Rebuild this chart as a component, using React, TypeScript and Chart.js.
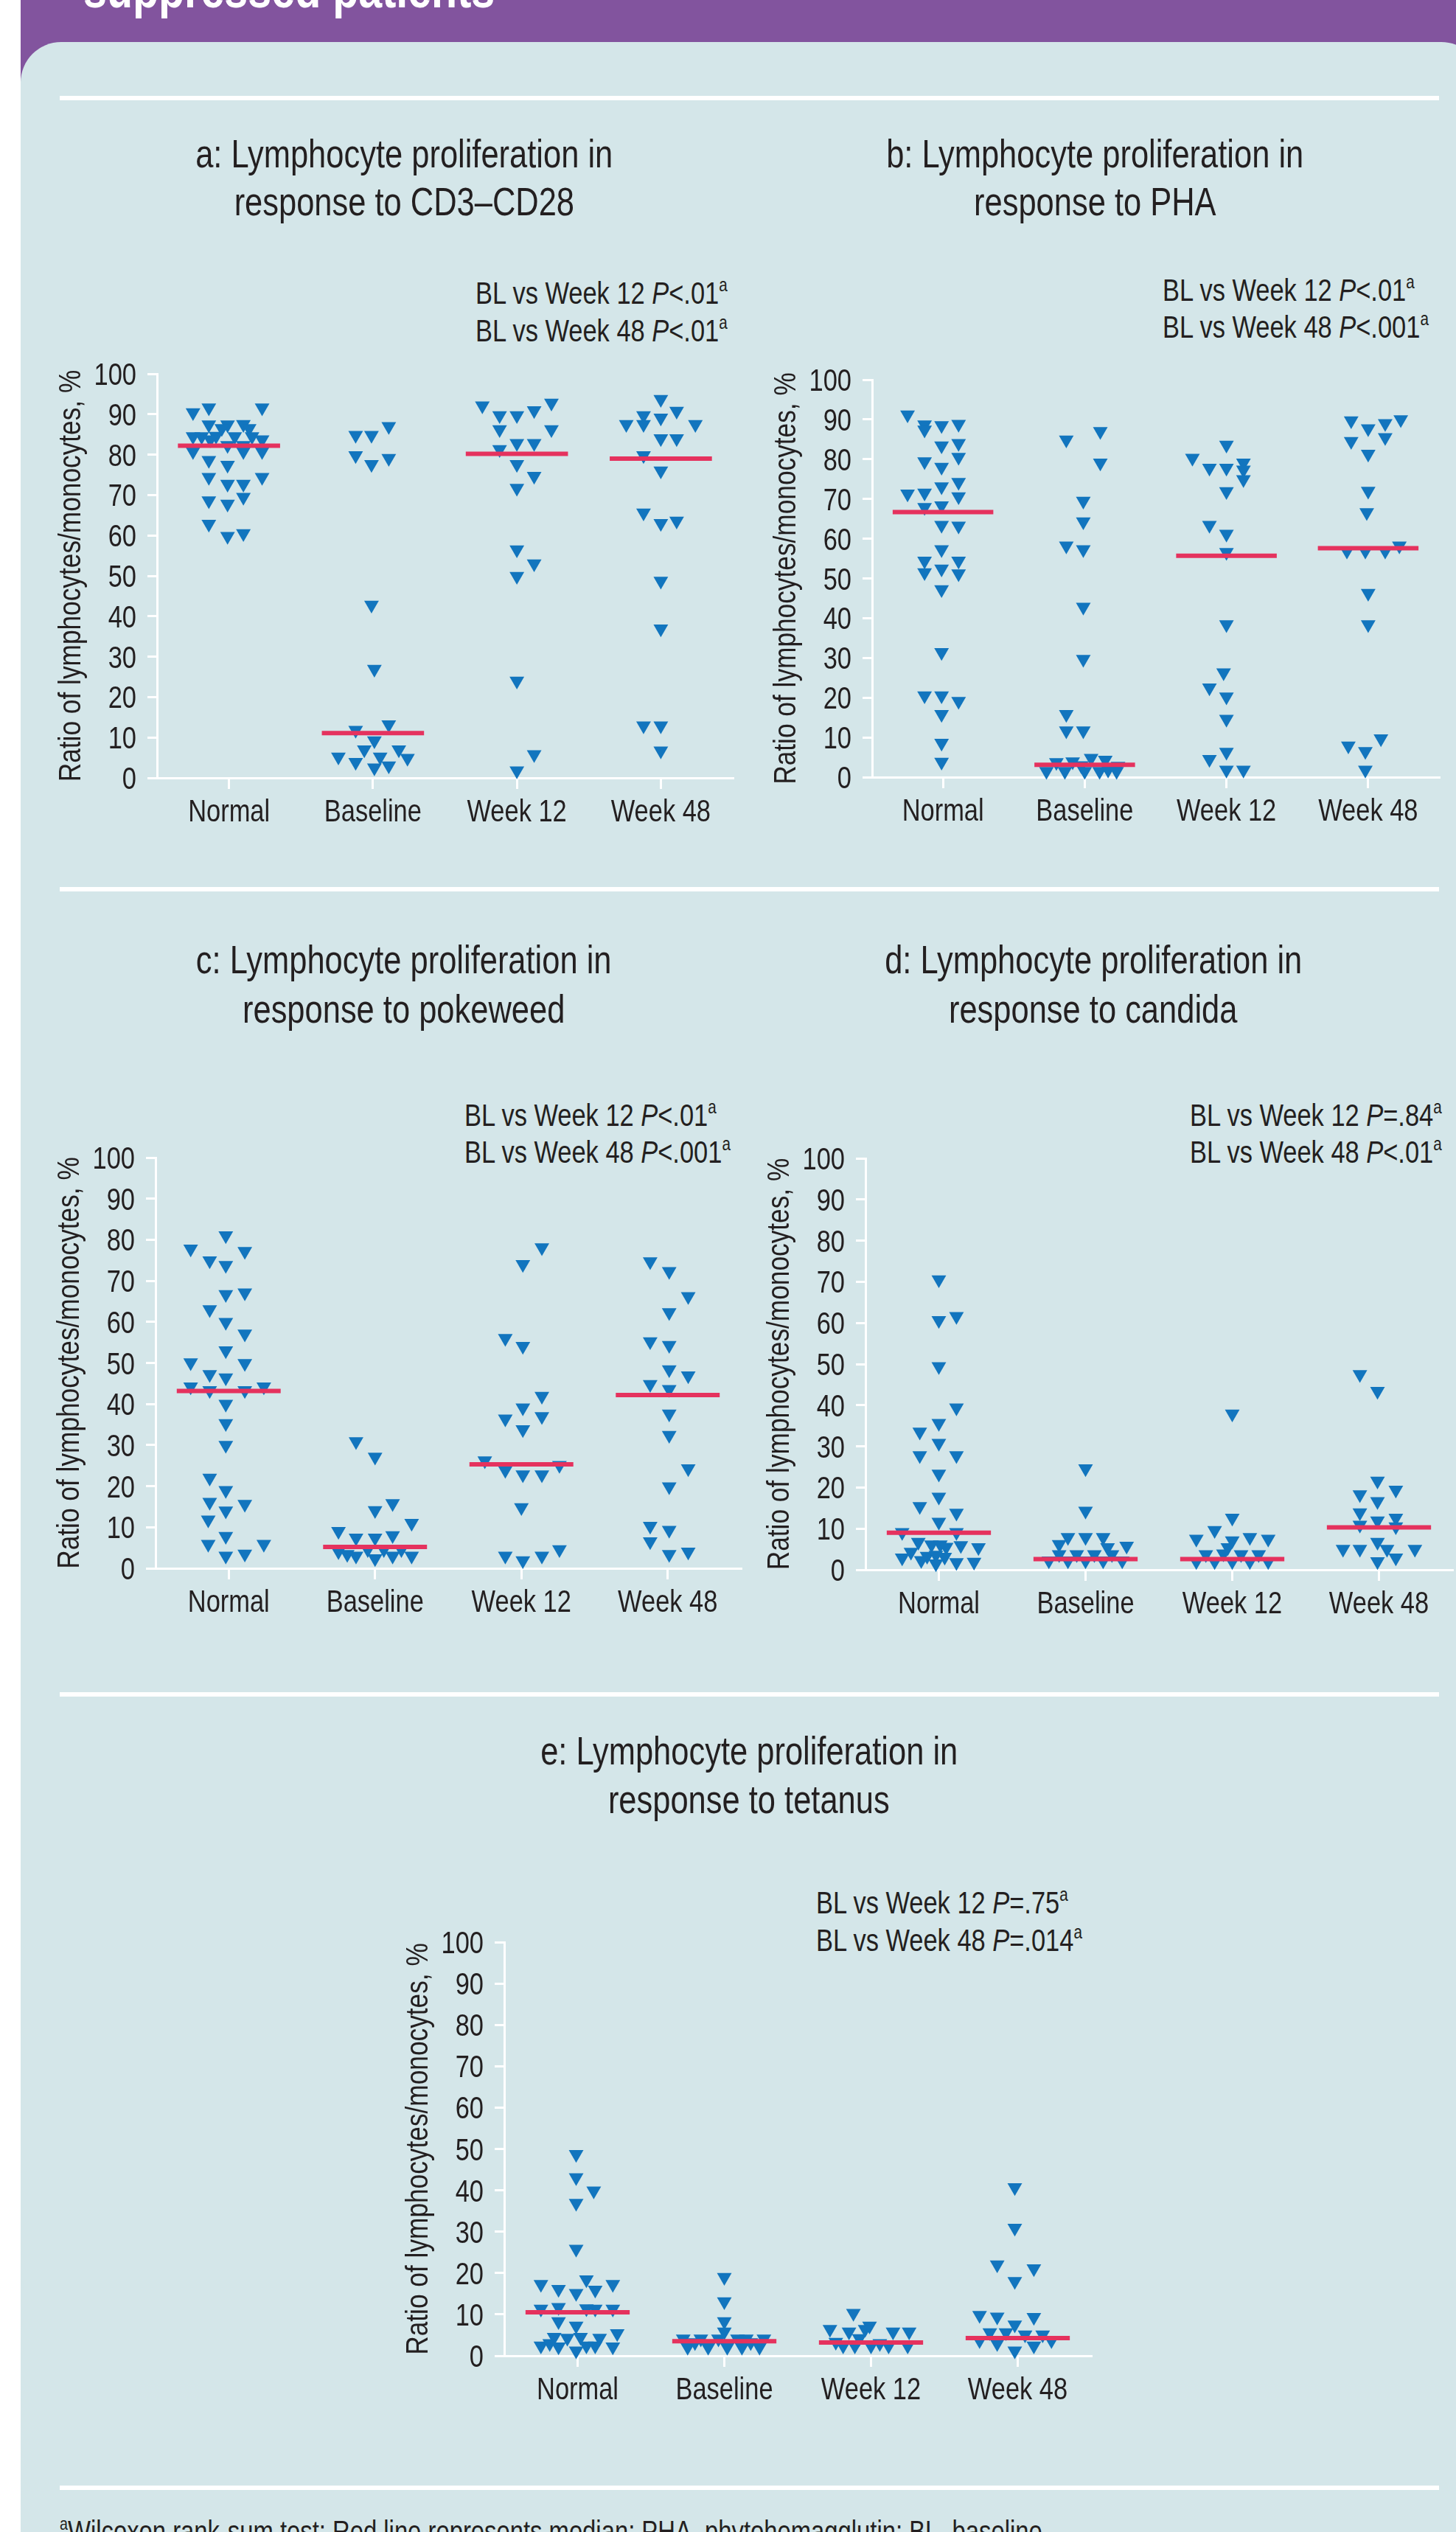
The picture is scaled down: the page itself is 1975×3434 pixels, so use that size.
import React, { useEffect, useRef } from "react";
import { Chart, registerables } from "chart.js";

Chart.register(...registerables);

// ---------------- DATA ----------------
const categories = ["Normal", "Baseline", "Week 12", "Week 48"];
const yAxisTitle = "Ratio of lymphocytes/monocytes, %";
const headerText = "suppressed patients";
const footnote = "Wilcoxon rank-sum test; Red line represents median; PHA, phytohemagglutin; BL, baseline.";

// Panel a: CD3–CD28
const aTitle = ["a: Lymphocyte proliferation in", "response to CD3–CD28"];
const aPValues = ["<.01", "<.01"];
const aNormal = [90.4, 91.6, 91.6, 87.4, 87.4, 87.5, 86.5, 86.5, 84.5, 84.5, 84.6, 84.5, 83.7, 84.5, 83.7, 82.3, 82.3, 80.8, 80.8, 80.8, 78.6, 77.4, 74.4, 74.4, 72.7, 72.7, 69.5, 68.6, 67.8, 62.8, 59.8, 60.5];
const aBaseline = [84.8, 84.8, 87.0, 79.8, 77.6, 79.1, 42.8, 26.9, 11.8, 13.2, 9.2, 7.0, 7.0, 5.2, 5.2, 4.9, 3.9, 2.5, 3.0];
const aWeek12 = [92.1, 92.8, 89.7, 89.7, 90.9, 86.2, 86.2, 82.8, 82.8, 81.3, 77.6, 74.7, 71.7, 56.5, 53.0, 49.9, 24.0, 5.8, 1.8];
const aWeek48 = [93.7, 89.7, 90.8, 87.5, 87.5, 89.1, 87.5, 84.0, 84.0, 79.8, 76.0, 65.6, 63.0, 63.6, 48.7, 36.9, 12.9, 12.9, 6.7];
const aMedians = [82.2, 11.1, 80.2, 79.0];

// Panel b: PHA
const bTitle = ["b: Lymphocyte proliferation in", "response to PHA"];
const bPValues = ["<.01", "<.001"];
const bNormal = [91.2, 88.7, 87.4, 88.5, 88.8, 83.4, 84.0, 79.4, 78.0, 80.5, 74.2, 73.1, 71.3, 71.5, 70.6, 67.9, 68.3, 63.4, 63.2, 57.3, 54.4, 54.4, 51.5, 52.4, 51.2, 47.2, 31.4, 20.5, 20.5, 19.1, 15.8, 8.6, 3.8];
const bBaseline = [84.9, 87.0, 79.1, 69.5, 64.3, 58.2, 57.3, 42.8, 29.7, 15.8, 11.7, 11.7, 3.7, 3.9, 2.9, 4.8, 4.3, 2.8, 1.5, 1.5, 1.5, 1.5, 1.8, 1.5];
const bWeek12 = [83.6, 80.3, 77.8, 77.8, 79.1, 77.3, 74.9, 71.9, 63.4, 61.2, 56.6, 38.4, 26.3, 22.5, 20.2, 14.6, 4.5, 6.3, 1.8, 1.8];
const bWeek48 = [89.7, 89.0, 90.0, 87.7, 84.5, 85.5, 81.3, 72.0, 66.6, 56.9, 56.9, 56.9, 58.2, 46.3, 38.4, 7.9, 6.5, 9.7, 1.8];
const bMedians = [66.7, 3.1, 55.7, 57.6];

// Panel c: pokeweed
const cTitle = ["c: Lymphocyte proliferation in", "response to pokeweed"];
const cPValues = ["<.01", "<.001"];
const cNormal = [81.0, 77.8, 77.2, 74.9, 73.8, 66.7, 67.1, 63.0, 59.9, 57.1, 53.0, 50.1, 49.9, 47.2, 46.4, 44.2, 43.3, 43.3, 44.2, 40.0, 35.3, 30.0, 22.0, 19.0, 16.1, 15.6, 14.0, 11.8, 7.8, 5.9, 5.9, 3.0, 3.5];
const cBaseline = [30.9, 27.1, 14.1, 15.8, 11.0, 9.0, 7.4, 7.4, 8.0, 4.1, 3.4, 3.0, 4.6, 2.4, 4.6, 3.0, 4.6, 3.0];
const cWeek12 = [78.1, 74.0, 56.0, 54.1, 41.9, 39.1, 36.4, 37.0, 33.8, 26.2, 25.1, 23.9, 22.8, 22.8, 14.8, 3.0, 1.9, 3.0, 4.6];
const cWeek48 = [74.7, 72.3, 66.2, 62.3, 55.2, 54.3, 48.4, 46.9, 44.8, 43.6, 37.6, 32.4, 24.3, 19.9, 10.3, 9.3, 6.5, 3.4, 4.0];
const cMedians = [43.2, 5.2, 25.3, 42.2];

// Panel d: candida
const dTitle = ["d: Lymphocyte proliferation in", "response to candida"];
const dPValues = ["=.84", "<.01"];
const dNormal = [70.5, 60.6, 61.6, 49.4, 39.4, 35.6, 33.5, 30.8, 27.8, 27.8, 23.3, 17.7, 15.4, 13.8, 11.6, 9.1, 9.1, 6.7, 6.1, 6.1, 5.5, 5.9, 5.4, 4.3, 3.3, 3.6, 3.1, 2.9, 2.3, 1.5, 1.8, 1.9];
const dBaseline = [24.6, 14.3, 7.9, 7.9, 7.9, 6.2, 5.4, 5.8, 3.7, 3.7, 3.7, 3.7, 2.2, 2.2, 2.2, 2.2, 2.2];
const dWeek12 = [37.9, 12.6, 9.6, 7.5, 7.1, 7.9, 7.5, 5.4, 3.7, 3.9, 3.7, 3.7, 2.0, 2.0, 2.0, 2.0, 2.0];
const dWeek48 = [47.5, 43.4, 21.6, 19.4, 18.3, 16.6, 13.9, 12.6, 11.9, 10.9, 10.5, 5.0, 5.0, 6.7, 5.0, 5.0, 2.0, 2.9];
const dMedians = [9.0, 2.6, 2.6, 10.3];

// Panel e: tetanus
const eTitle = ["e: Lymphocyte proliferation in", "response to tetanus"];
const ePValues = ["=.75", "=.014"];
const eNormal = [48.7, 43.1, 39.9, 36.9, 25.8, 17.3, 16.1, 15.1, 18.4, 15.9, 17.3, 11.3, 11.7, 11.4, 11.3, 11.3, 8.3, 7.2, 5.4, 4.5, 4.3, 4.5, 4.3, 2.4, 2.2, 1.2, 2.4, 2.4, 2.2, 3.0];
const eBaseline = [19.0, 13.1, 8.3, 5.8, 4.1, 4.1, 4.1, 4.1, 4.1, 4.1, 2.1, 2.1, 2.1, 2.1, 2.1, 3.2, 3.2];
const eWeek12 = [10.3, 7.2, 6.4, 5.8, 6.4, 5.8, 5.8, 4.2, 3.3, 2.4, 2.4, 2.4, 2.4, 3.0, 2.4];
const eWeek48 = [40.7, 30.9, 22.0, 21.1, 18.0, 9.8, 9.4, 9.3, 7.5, 5.6, 5.6, 5.1, 5.1, 3.7, 3.0, 2.4, 3.7, 1.2];
const eMedians = [10.5, 3.5, 3.2, 4.3];

// ---------------- LAYOUT (horizontal spread of points within a category, in category widths) ----------------
const aJitter = [
  [-0.25, -0.14, 0.23, -0.14, -0.01, 0.10, -0.05, 0.14, -0.25, -0.19, -0.09, 0.04, -0.13, 0.16, 0.23, -0.01, 0.10, -0.25, 0.10, 0.23, -0.14, -0.01, -0.14, 0.23, -0.01, 0.10, 0.10, -0.14, -0.01, -0.14, -0.01, 0.10],
  [-0.12, -0.01, 0.11, -0.12, -0.01, 0.11, -0.01, 0.01, -0.12, 0.11, 0.01, -0.06, 0.18, -0.24, 0.05, 0.24, -0.12, 0.01, 0.11],
  [-0.24, 0.24, -0.12, 0, 0.12, -0.12, 0.24, 0, 0.12, -0.12, 0, 0.12, 0, 0, 0.12, 0, 0, 0.12, 0],
  [0, -0.12, 0.11, -0.24, -0.12, 0, 0.24, 0, 0.11, -0.12, 0, -0.12, 0, 0.11, 0, 0, -0.12, 0, 0],
];
const bJitter = [
  [-0.25, -0.13, -0.13, -0.01, 0.11, -0.01, 0.11, -0.13, -0.01, 0.11, 0.11, -0.01, -0.25, -0.13, 0.11, -0.13, -0.01, -0.01, 0.11, -0.01, -0.13, 0.11, -0.13, -0.01, 0.11, -0.01, -0.01, -0.13, -0.01, 0.11, -0.01, -0.01, -0.01],
  [-0.13, 0.11, 0.11, -0.01, -0.01, -0.13, -0.01, -0.01, -0.01, -0.13, -0.13, -0.01, -0.2, -0.085, -0.025, 0.045, 0.145, 0.235, -0.27, -0.14, 0, 0.105, 0.165, 0.225],
  [0, -0.24, -0.12, 0, 0.12, 0.12, 0.12, 0, -0.12, 0, 0, 0, -0.02, -0.12, 0, 0, -0.12, 0, 0, 0.12],
  [-0.12, 0.12, 0.23, 0, -0.12, 0.12, 0, 0, -0.01, -0.15, -0.02, 0.12, 0.22, 0, 0, -0.14, -0.02, 0.09, -0.02],
];
const cJitter = [
  [-0.02, -0.26, 0.11, -0.13, -0.02, -0.02, 0.11, -0.13, -0.02, 0.11, -0.02, -0.26, 0.11, -0.13, -0.02, -0.26, -0.13, 0.11, 0.24, -0.02, -0.02, -0.02, -0.13, -0.02, -0.13, 0.11, -0.02, -0.14, -0.02, -0.14, 0.24, -0.02, 0.11],
  [-0.13, 0, 0, 0.12, 0.25, -0.25, -0.13, 0, 0.12, -0.25, -0.19, -0.13, -0.05, 0, 0.06, 0.12, 0.18, 0.25],
  [0.14, 0.01, -0.11, 0.01, 0.14, 0.01, -0.11, 0.14, 0.01, -0.25, 0.26, -0.11, 0.01, 0.14, 0, -0.11, 0.01, 0.14, 0.26],
  [-0.12, 0.01, 0.14, 0.01, -0.12, 0.01, 0.01, 0.14, -0.12, 0.01, 0.01, 0.01, 0.14, 0.01, -0.12, 0.01, -0.12, 0.01, 0.14],
];
const dJitter = [
  [0, 0, 0.12, 0, 0.12, 0, -0.13, 0, -0.13, 0.12, 0, 0, -0.13, 0.12, 0, -0.25, 0.12, -0.14, -0.05, 0.01, 0.05, 0.15, 0.27, -0.19, -0.08, -0.02, 0.04, -0.25, -0.12, -0.02, 0.12, 0.24],
  [0, 0, -0.12, 0, 0.12, -0.18, 0.15, 0.28, -0.18, -0.06, 0.06, 0.18, -0.25, -0.12, 0, 0.12, 0.25],
  [0, 0, -0.12, -0.245, 0, 0.12, 0.245, -0.03, -0.18, -0.06, 0.06, 0.18, -0.245, -0.12, 0, 0.12, 0.245],
  [-0.13, -0.01, -0.01, 0.115, -0.13, -0.01, -0.13, 0.115, -0.01, -0.13, 0.115, -0.245, -0.13, -0.01, 0.055, 0.245, -0.01, 0.115],
];
const eJitter = [
  [-0.01, -0.01, 0.11, -0.01, -0.01, -0.25, -0.13, -0.01, 0.06, 0.12, 0.24, -0.25, -0.13, 0.06, 0.12, 0.24, -0.13, -0.01, 0.27, -0.16, -0.07, 0.02, 0.15, -0.25, -0.13, -0.01, 0.06, 0.12, 0.24, -0.19],
  [0, 0, 0, 0, -0.28, -0.16, -0.04, 0.09, 0.15, 0.27, -0.25, -0.11, 0.02, 0.12, 0.24, -0.2, 0.18],
  [-0.12, -0.01, -0.28, -0.15, -0.04, 0.15, 0.26, -0.08, -0.24, -0.11, 0, 0.12, 0.25, 0.06, -0.19],
  [-0.02, -0.02, -0.14, 0.11, -0.02, -0.26, -0.14, 0.11, -0.02, -0.19, -0.08, 0.05, 0.17, -0.26, -0.14, 0.11, 0.23, -0.02],
];

// ---------------- STYLE ----------------
const FONT = "'Liberation Sans', Arial, sans-serif";
const SX = 0.82; // horizontal condensing of text (narrow typeface look)
const TEXT = "#231f20";
const BLUE = "#1275be";
const RED = "#e5325e";
const PANEL_BG = "#d4e6e9";
const PURPLE = "#82549e";
const MEDIAN_HALF = 0.355;
const Y_AXIS_W = 200;
const X_AXIS_H = 80;
const PAD_T = 30;
const PAD_R = 20;
const TICK_SIZE = 42;
const YTITLE_SIZE = 43;
const Y_LABEL_GAP = 28;
const Y_TITLE_OFFSET = 116;
const X_LABEL_BASE = 59;
const NOTE_SIZE = 42;
const TITLE_SIZE = 53;

type Rect = { l: number; r: number; t: number; b: number };

const PANELS = [
  { key: "a", title: aTitle, p: aPValues, groups: [aNormal, aBaseline, aWeek12, aWeek48], jitter: aJitter, medians: aMedians,
    rect: { l: 213, r: 994, t: 507, b: 1054.6 }, noteLeft: 645, noteBase: [413, 464], titleX: 548, titleBase: [227, 292] },
  { key: "b", title: bTitle, p: bPValues, groups: [bNormal, bBaseline, bWeek12, bWeek48], jitter: bJitter, medians: bMedians,
    rect: { l: 1183, r: 1952, t: 515, b: 1054 }, noteLeft: 1577, noteBase: [408.5, 459], titleX: 1485, titleBase: [227, 292] },
  { key: "c", title: cTitle, p: cPValues, groups: [cNormal, cBaseline, cWeek12, cWeek48], jitter: cJitter, medians: cMedians,
    rect: { l: 211, r: 1005, t: 1569.5, b: 2127.3 }, noteLeft: 630, noteBase: [1528, 1578], titleX: 548, titleBase: [1320, 1387] },
  { key: "d", title: dTitle, p: dPValues, groups: [dNormal, dBaseline, dWeek12, dWeek48], jitter: dJitter, medians: dMedians,
    rect: { l: 1174, r: 1970, t: 1571, b: 2129 }, noteLeft: 1614, noteBase: [1528, 1578], titleX: 1483, titleBase: [1320, 1387] },
  { key: "e", title: eTitle, p: ePValues, groups: [eNormal, eBaseline, eWeek12, eWeek48], jitter: eJitter, medians: eMedians,
    rect: { l: 684, r: 1480, t: 2634, b: 3194.5 }, noteLeft: 1107, noteBase: [2596, 2647], titleX: 1016, titleBase: [2393, 2459] },
];

const SEPARATORS = [130, 1203, 2295, 3371];

// top of a single-line box (line-height = font size) whose baseline is at `baseline`
const topFor = (baseline: number, size: number) => baseline - 0.8465 * size;

function drawCondensed(ctx: CanvasRenderingContext2D, text: string, x: number, y: number, align: CanvasTextAlign, rot = 0) {
  ctx.save();
  ctx.translate(x, y);
  if (rot) ctx.rotate(rot);
  ctx.scale(SX, 1);
  ctx.textAlign = align;
  ctx.fillText(text, 0, 0);
  ctx.restore();
}

// draws axis labels from the chart's own scales, in a condensed face
const condensedLabels = {
  id: "condensedLabels",
  afterDraw(chart: any) {
    const { ctx, chartArea } = chart;
    const xs = chart.scales.x;
    const ys = chart.scales.y;
    ctx.save();
    ctx.fillStyle = TEXT;
    ctx.font = `${TICK_SIZE}px ${FONT}`;
    ctx.textBaseline = "alphabetic";
    ys.ticks.forEach((t: any) => {
      drawCondensed(ctx, String(t.value), ys.right - Y_LABEL_GAP, ys.getPixelForValue(t.value) + 0.358 * TICK_SIZE, "right");
    });
    xs.ticks.forEach((t: any) => {
      const label = categories[Math.round(t.value) - 1] ?? "";
      drawCondensed(ctx, label, xs.getPixelForValue(t.value), xs.top + X_LABEL_BASE, "center");
    });
    ctx.font = `${YTITLE_SIZE}px ${FONT}`;
    ctx.textBaseline = "middle";
    drawCondensed(ctx, yAxisTitle, ys.right - Y_TITLE_OFFSET, (chartArea.top + chartArea.bottom) / 2, "center", -Math.PI / 2);
    ctx.restore();
  },
};

function ScatterPanel({ rect, groups, jitter, medians }: { rect: Rect; groups: number[][]; jitter: number[][]; medians: number[] }) {
  const ref = useRef<HTMLCanvasElement>(null);
  const left = Math.round(rect.l - Y_AXIS_W);
  const top = Math.round(rect.t - PAD_T);
  const width = Math.round(rect.r + PAD_R) - left;
  const height = Math.round(rect.b + X_AXIS_H) - top;

  useEffect(() => {
    if (!ref.current) return;
    const points: { x: number; y: number }[] = [];
    groups.forEach((vals, gi) =>
      vals.forEach((v, k) => points.push({ x: gi + 1 + (jitter[gi][k] ?? 0), y: v }))
    );
    const medianSets = medians.map((m, gi) => ({
      data: [
        { x: gi + 1 - MEDIAN_HALF, y: m },
        { x: gi + 1 + MEDIAN_HALF, y: m },
      ],
      showLine: true,
      borderColor: RED,
      backgroundColor: RED,
      borderWidth: 6,
      pointRadius: 0,
      pointHoverRadius: 0,
      order: 0,
      clip: false as any,
    }));
    const chart = new Chart(ref.current, {
      type: "scatter",
      data: {
        datasets: [
          {
            data: points,
            pointStyle: "triangle",
            pointRotation: 180,
            pointRadius: 11.5,
            pointHoverRadius: 11.5,
            pointBackgroundColor: BLUE,
            backgroundColor: BLUE,
            pointBorderWidth: 0,
            borderWidth: 0,
            order: 1,
            clip: false as any,
          } as any,
          ...(medianSets as any[]),
        ],
      },
      options: {
        animation: false,
        responsive: false,
        devicePixelRatio: 1,
        events: [],
        layout: { padding: { left: 0, top: PAD_T, right: PAD_R, bottom: 0 } },
        plugins: { legend: { display: false }, tooltip: { enabled: false }, title: { display: false } },
        scales: {
          x: {
            type: "linear",
            min: 0.5,
            max: 4.5,
            afterBuildTicks: (axis: any) => {
              axis.ticks = categories.map((_, i) => ({ value: i + 1 }));
            },
            afterFit: (axis: any) => {
              axis.height = X_AXIS_H;
            },
            ticks: { display: false, autoSkip: false },
            grid: { drawOnChartArea: false, drawTicks: true, tickLength: 15, tickColor: "#ffffff", tickWidth: 3, color: "#ffffff", lineWidth: 3 },
            border: { display: true, color: "#ffffff", width: 3 },
          },
          y: {
            type: "linear",
            min: 0,
            max: 100,
            afterFit: (axis: any) => {
              axis.width = Y_AXIS_W;
            },
            ticks: { stepSize: 10, display: false, autoSkip: false },
            grid: { drawOnChartArea: false, drawTicks: true, tickLength: 13, tickColor: "#ffffff", tickWidth: 3, color: "#ffffff", lineWidth: 3 },
            border: { display: true, color: "#ffffff", width: 3 },
            title: { display: false, text: yAxisTitle },
          },
        },
      } as any,
      plugins: [condensedLabels as any],
    });
    return () => chart.destroy();
  }, []);

  return (
    <canvas
      ref={ref}
      width={width}
      height={height}
      style={{ position: "absolute", left, top, width, height, display: "block" }}
    />
  );
}

function Narrow({ origin, children }: { origin: string; children: React.ReactNode }) {
  return (
    <span style={{ display: "inline-block", transform: `scaleX(${SX})`, transformOrigin: origin, whiteSpace: "nowrap" }}>
      {children}
    </span>
  );
}

function Sup({ children }: { children: React.ReactNode }) {
  return (
    <span style={{ fontSize: "0.6em", position: "relative", top: "-0.68em", lineHeight: 0 }}>{children}</span>
  );
}

function Note({ left, base, week, p }: { left: number; base: number; week: string; p: string }) {
  return (
    <div
      style={{
        position: "absolute",
        left,
        top: topFor(base, NOTE_SIZE),
        fontSize: NOTE_SIZE,
        lineHeight: `${NOTE_SIZE}px`,
        whiteSpace: "nowrap",
        color: TEXT,
      }}
    >
      <Narrow origin="left center">
        {`BL vs ${week} `}
        <i>P</i>
        {p}
        <Sup>a</Sup>
      </Narrow>
    </div>
  );
}

function TitleLine({ cx, base, text }: { cx: number; base: number; text: string }) {
  return (
    <div
      style={{
        position: "absolute",
        left: cx - 600,
        width: 1200,
        textAlign: "center",
        top: topFor(base, TITLE_SIZE),
        fontSize: TITLE_SIZE,
        lineHeight: `${TITLE_SIZE}px`,
        whiteSpace: "nowrap",
        color: TEXT,
      }}
    >
      <Narrow origin="center center">{text}</Narrow>
    </div>
  );
}

export default function App() {
  useEffect(() => {
    document.body.style.margin = "0";
    document.body.style.overflow = "hidden";
  }, []);

  return (
    <div
      style={{
        position: "absolute",
        left: 0,
        top: 0,
        width: 1975,
        height: 3434,
        overflow: "hidden",
        background: "#ffffff",
        fontFamily: FONT,
      }}
    >
      <div style={{ position: "absolute", left: 28, top: 0, width: 1960, height: 140, background: PURPLE }} />
      <div
        style={{
          position: "absolute",
          left: 113,
          top: topFor(10, 70),
          fontSize: 70,
          lineHeight: "70px",
          fontWeight: 700,
          color: "#ffffff",
          whiteSpace: "nowrap",
        }}
      >
        <Narrow origin="left center">{headerText}</Narrow>
      </div>
      <div
        style={{
          position: "absolute",
          left: 28,
          top: 57,
          width: 1982,
          height: 3400,
          background: PANEL_BG,
          borderRadius: "55px 55px 0 0",
        }}
      />
      {SEPARATORS.map((y) => (
        <div key={y} style={{ position: "absolute", left: 81, top: y, width: 1871, height: 6, background: "#ffffff" }} />
      ))}
      {PANELS.map((pn) => (
        <React.Fragment key={pn.key}>
          <TitleLine cx={pn.titleX} base={pn.titleBase[0]} text={pn.title[0]} />
          <TitleLine cx={pn.titleX} base={pn.titleBase[1]} text={pn.title[1]} />
          <Note left={pn.noteLeft} base={pn.noteBase[0]} week="Week 12" p={pn.p[0]} />
          <Note left={pn.noteLeft} base={pn.noteBase[1]} week="Week 48" p={pn.p[1]} />
          <ScatterPanel rect={pn.rect} groups={pn.groups} jitter={pn.jitter} medians={pn.medians} />
        </React.Fragment>
      ))}
      <div
        style={{
          position: "absolute",
          left: 81,
          top: topFor(3447, 40),
          fontSize: 40,
          lineHeight: "40px",
          whiteSpace: "nowrap",
          color: TEXT,
        }}
      >
        <Narrow origin="left center">
          <Sup>a</Sup>
          {footnote}
        </Narrow>
      </div>
    </div>
  );
}
